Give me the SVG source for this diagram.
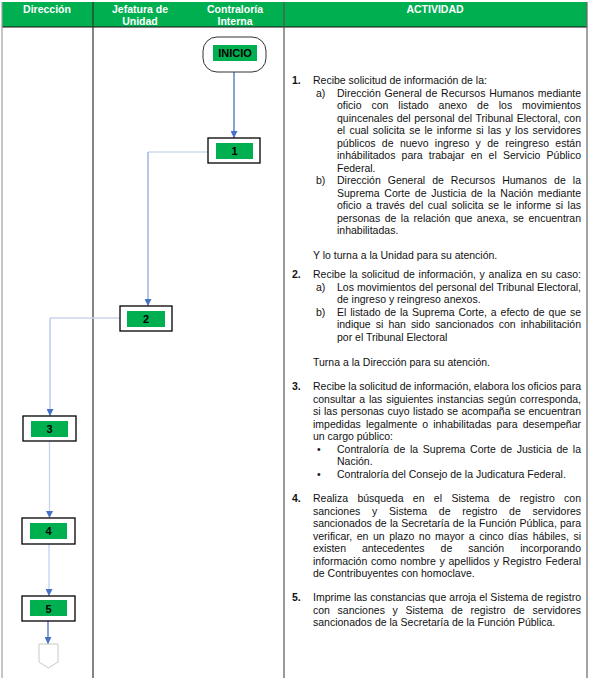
<svg xmlns="http://www.w3.org/2000/svg" width="589" height="678" viewBox="0 0 589 678">
<style>
.hd{font-family:"Liberation Sans",Arial,sans-serif;font-size:10.5px;font-weight:bold;fill:#fff;text-anchor:middle}
.t{font-family:"Liberation Sans",Arial,sans-serif;font-size:10.5px;fill:#111}
.n{font-family:"Liberation Sans",Arial,sans-serif;font-size:10.5px;font-weight:bold;fill:#111}
.lbl{font-family:"Liberation Sans",Arial,sans-serif;font-size:11px;font-weight:bold;fill:#000;text-anchor:middle}
.box{fill:#fff;stroke:#000;stroke-width:1.3}
.in{fill:#00B050}
.c{fill:none;stroke-width:1.3}
</style>
<defs>
<marker id="ah" viewBox="0 0 10 10" refX="10" refY="5" markerWidth="7" markerHeight="7" markerUnits="userSpaceOnUse" orient="auto">
<path d="M0,0 L10,5 L0,10 Z" fill="#4472C4"/>
</marker>
</defs>
<rect x="0" y="0" width="589" height="678" fill="#fff"/>
<g id="table">
<rect x="2" y="2" width="585" height="25" fill="#00B050"/>
<line x1="2" y1="27" x2="587" y2="27" stroke="#111" stroke-width="1.2"/>
<line x1="2" y1="2" x2="2" y2="678" stroke="#A0A0A0" stroke-width="1.2"/>
<line x1="93" y1="2" x2="93" y2="678" stroke="#333" stroke-width="1.2"/>
<line x1="284" y1="2" x2="284" y2="678" stroke="#555" stroke-width="1.2"/>
<line x1="587" y1="2" x2="587" y2="678" stroke="#666" stroke-width="1.2"/>
<text class="hd" x="47" y="13">Dirección</text>
<text class="hd" x="140" y="13">Jefatura de</text>
<text class="hd" x="140" y="25">Unidad</text>
<text class="hd" x="235" y="13">Contraloría</text>
<text class="hd" x="235" y="25">Interna</text>
<text class="hd" x="435" y="13">ACTIVIDAD</text>
</g>
<g id="connectors">
<line class="c" x1="234" y1="72" x2="234" y2="138" stroke="#4472C4" marker-end="url(#ah)"/>
<polyline class="c" points="208,152 148,152" stroke="#D0DBF0" stroke-width="2"/>
<line class="c" x1="148" y1="152" x2="148" y2="306" stroke="#8FAADC" marker-end="url(#ah)"/>
<polyline class="c" points="120,318 50,318" stroke="#C9D6EE" stroke-width="1.5"/>
<line class="c" x1="50" y1="318" x2="50" y2="416" stroke="#AFC3E6" marker-end="url(#ah)"/>
<line class="c" x1="49.5" y1="441" x2="49.5" y2="518" stroke="#C5D3EE" stroke-width="2" marker-end="url(#ah)"/>
<line class="c" x1="49" y1="544" x2="49" y2="596" stroke="#C5D3EE" stroke-width="2" marker-end="url(#ah)"/>
<line class="c" x1="48" y1="621" x2="48" y2="644" stroke="#4472C4" marker-end="url(#ah)"/>
</g>
<g id="inicio">
<rect x="203" y="37" width="63" height="35" rx="14" ry="14" fill="#fff" stroke="#333" stroke-width="1"/>
<rect class="in" x="213" y="45" width="44" height="16"/>
<text class="lbl" x="235" y="57">INICIO</text>
</g>
<g id="node1">
<rect class="box" x="208" y="138" width="52" height="25"/>
<rect class="in" x="216" y="143" width="37" height="16"/>
<text class="lbl" x="234.5" y="155">1</text>
</g>
<g id="node2">
<rect class="box" x="120" y="306" width="52" height="25" stroke="#555"/>
<rect class="in" x="127" y="311" width="38" height="16"/>
<text class="lbl" x="146" y="323">2</text>
</g>
<g id="node3">
<rect class="box" x="23" y="416" width="53" height="25"/>
<rect class="in" x="31" y="421" width="37" height="16"/>
<text class="lbl" x="49.5" y="433">3</text>
</g>
<g id="node4">
<rect class="box" x="22" y="518" width="53" height="26"/>
<rect class="in" x="30" y="523" width="37" height="16"/>
<text class="lbl" x="48.5" y="535">4</text>
</g>
<g id="node5">
<rect class="box" x="22" y="596" width="53" height="25" stroke="#444"/>
<rect class="in" x="30" y="600" width="37" height="16"/>
<text class="lbl" x="48.5" y="612.5">5</text>
</g>
<g id="offpage">
<polygon points="39,644 58,644 58,662 48.5,668 39,662" fill="#fff" stroke="#C8C8C8" stroke-width="1"/>
</g>
<g id="actividad">
<text class="n" x="292" y="84">1.</text>
<text class="t" x="313" y="84">Recibe solicitud de información de la:</text>
<text class="t" x="316" y="96.5">a)</text>
<text class="t" x="337" y="96.5" textLength="244" lengthAdjust="spacing" style="word-spacing:0.84px">Dirección General de Recursos Humanos mediante</text>
<text class="t" x="337" y="109" textLength="244" lengthAdjust="spacing" style="word-spacing:7px">oficio con listado anexo de los movimientos</text>
<text class="t" x="337" y="121.5" textLength="244" lengthAdjust="spacing" style="word-spacing:0.6px">quincenales del personal del Tribunal Electoral, con</text>
<text class="t" x="337" y="134" textLength="244" lengthAdjust="spacing" style="word-spacing:1.3px">el cual solicita se le informe si las y los servidores</text>
<text class="t" x="337" y="146.5" textLength="244" lengthAdjust="spacing" style="word-spacing:3.43px">públicos de nuevo ingreso y de reingreso están</text>
<text class="t" x="337" y="159" textLength="244" lengthAdjust="spacing" style="word-spacing:3.3px">inhábilitados para trabajar en el Servicio Público</text>
<text class="t" x="337" y="171.5">Federal.</text>
<text class="t" x="316" y="184">b)</text>
<text class="t" x="337" y="184" textLength="244" lengthAdjust="spacing" style="word-spacing:4.1px">Dirección General de Recursos Humanos de la</text>
<text class="t" x="337" y="196.5" textLength="244" lengthAdjust="spacing" style="word-spacing:1.84px">Suprema Corte de Justicia de la Nación mediante</text>
<text class="t" x="337" y="209" textLength="244" lengthAdjust="spacing" style="word-spacing:1.53px">oficio a través del cual solicita se le informe si las</text>
<text class="t" x="337" y="221.5" textLength="244" lengthAdjust="spacing" style="word-spacing:1.59px">personas de la relación que anexa, se encuentran</text>
<text class="t" x="337" y="234">inhabilitadas.</text>
<text class="t" x="313" y="259">Y lo turna a la Unidad para su atención.</text>

<text class="n" x="292" y="278">2.</text>
<text class="t" x="313" y="278" textLength="268" lengthAdjust="spacing" style="word-spacing:0.77px">Recibe la solicitud de información, y analiza en su caso:</text>
<text class="t" x="316" y="290.5">a)</text>
<text class="t" x="337" y="290.5" textLength="244" lengthAdjust="spacing" style="word-spacing:0.1px">Los movimientos del personal del Tribunal Electoral,</text>
<text class="t" x="337" y="303">de ingreso y reingreso anexos.</text>
<text class="t" x="316" y="315.5">b)</text>
<text class="t" x="337" y="315.5" textLength="244" lengthAdjust="spacing" style="word-spacing:0.94px">El listado de la Suprema Corte, a efecto de que se</text>
<text class="t" x="337" y="328" textLength="244" lengthAdjust="spacing" style="word-spacing:2.25px">indique si han sido sancionados con inhabilitación</text>
<text class="t" x="337" y="340.5">por el Tribunal Electoral</text>
<text class="t" x="313" y="366">Turna a la Dirección para su atención.</text>

<text class="n" x="292" y="390">3.</text>
<text class="t" x="313" y="390" textLength="268" lengthAdjust="spacing" style="word-spacing:-0.2px">Recibe la solicitud de información, elabora los oficios para</text>
<text class="t" x="313" y="402.5" textLength="268" lengthAdjust="spacing" style="word-spacing:0.9px">consultar a las siguientes instancias según corresponda,</text>
<text class="t" x="313" y="415" textLength="268" lengthAdjust="spacing" style="word-spacing:0.5px">si las personas cuyo listado se acompaña se encuentran</text>
<text class="t" x="313" y="427.5" textLength="268" lengthAdjust="spacing" style="word-spacing:2.1px">impedidas legalmente o inhabilitadas para desempeñar</text>
<text class="t" x="313" y="440">un cargo público:</text>
<text class="t" x="317" y="452.5">•</text>
<text class="t" x="337" y="452.5" textLength="244" lengthAdjust="spacing" style="word-spacing:1.8px">Contraloría de la Suprema Corte de Justicia de la</text>
<text class="t" x="337" y="465">Nación.</text>
<text class="t" x="317" y="477.5">•</text>
<text class="t" x="337" y="477.5">Contraloría del Consejo de la Judicatura Federal.</text>

<text class="n" x="292" y="502">4.</text>
<text class="t" x="313" y="502" textLength="268" lengthAdjust="spacing" style="word-spacing:6.44px">Realiza búsqueda en el Sistema de registro con</text>
<text class="t" x="313" y="514.5" textLength="268" lengthAdjust="spacing" style="word-spacing:8.88px">sanciones y Sistema de registro de servidores</text>
<text class="t" x="313" y="527" textLength="268" lengthAdjust="spacing" style="word-spacing:0.38px">sancionados de la Secretaría de la Función Pública, para</text>
<text class="t" x="313" y="539.5" textLength="268" lengthAdjust="spacing" style="word-spacing:1.65px">verificar, en un plazo no mayor a cinco días hábiles, si</text>
<text class="t" x="313" y="552" textLength="268" lengthAdjust="spacing" style="word-spacing:13.2px">existen antecedentes de sanción incorporando</text>
<text class="t" x="313" y="564.5" textLength="268" lengthAdjust="spacing" style="word-spacing:0.77px">información como nombre y apellidos y Registro Federal</text>
<text class="t" x="313" y="577">de Contribuyentes con homoclave.</text>

<text class="n" x="292" y="601">5.</text>
<text class="t" x="313" y="601" textLength="268" lengthAdjust="spacing" style="word-spacing:0.1px">Imprime las constancias que arroja el Sistema de registro</text>
<text class="t" x="313" y="613.5" textLength="268" lengthAdjust="spacing" style="word-spacing:4.77px">con sanciones y Sistema de registro de servidores</text>
<text class="t" x="313" y="626">sancionados de la Secretaría de la Función Pública.</text>
</g>
</svg>
